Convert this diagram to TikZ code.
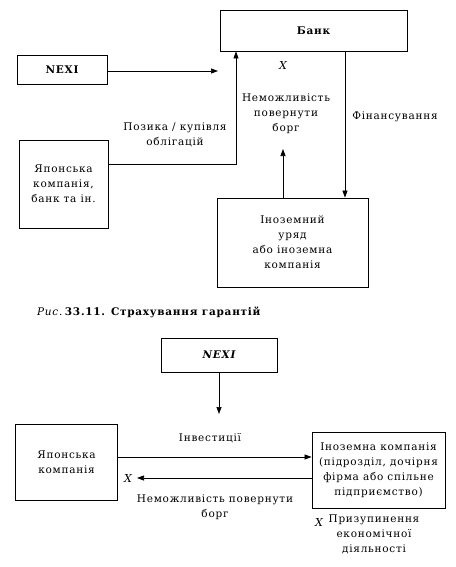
\documentclass[tikz,border=0pt]{standalone}
\usepackage{fontspec}
\setmainfont{DejaVu Serif}[LetterSpace=7]
\usetikzlibrary{arrows.meta}
\begin{document}
\begin{tikzpicture}[x=1pt,y=-1pt,
  every node/.style={font=\fontsize{10.5}{15}\selectfont},
  box/.style={draw,line width=0.8pt,inner sep=0pt,align=center},
  lbl/.style={align=center,inner sep=0pt},
  conn/.style={line width=0.7pt},
  arr/.style={conn,-{Triangle[length=7pt,width=5pt]}}]
\useasboundingbox (0,0) rectangle (455,567);
% top diagram
\node[box,minimum width=187pt,minimum height=41pt,font=\fontsize{10.5}{15}\selectfont\bfseries] (bank) at (313.5,30.5) {Банк};
\node[box,minimum width=90pt,minimum height=29pt,font=\fontsize{10.5}{15}\selectfont\bfseries] (nexiA) at (62,69.5) {NEXI};
\node[box,minimum width=89pt,minimum height=88pt] (japA) at (63.5,184) {Японська\\компанія,\\банк та ін.};
\node[box,minimum width=151pt,minimum height=89pt] (forA) at (292.5,242.5) {Іноземний\\уряд\\або іноземна\\компанія};
\coordinate (nexiEnd) at (218,71);
\draw[arr] (nexiA.east |- nexiEnd) -- (nexiEnd);
\draw[arr] ([yshift=20pt]japA.east) -| ([xshift=-77.5pt]bank.south);
\draw[arr] ([xshift=31.5pt]bank.south) -- ([xshift=31.5pt]bank.south |- forA.north);
\coordinate (upEnd) at (283,149);
\draw[arr] (upEnd |- forA.north) -- (upEnd);
\node[lbl,font=\fontsize{11}{15}\selectfont\itshape] (xA) at (283,65) {X};
\node[lbl] (nemA) at (286,114) {Неможливість\\повернути\\борг};
\node[lbl] (fin) at (395,117) {Фінансування};
\node[lbl] (poz) at (175,135) {Позика / купівля\\облігацій};
\node[lbl,anchor=west] (capA) at (37,312) {\textit{Рис.}\,\textbf{33.11. Страхування гарантій}};
% bottom diagram
\node[box,minimum width=116pt,minimum height=34pt,font=\fontsize{10.5}{15}\selectfont\bfseries\itshape] (nexiB) at (219,355) {NEXI};
\node[box,minimum width=102pt,minimum height=76pt] (japB) at (66.5,462) {Японська\\компанія};
\node[box,minimum width=133pt,minimum height=76pt] (forB) at (378.5,470) {Іноземна компанія\\(підрозділ, дочірня\\фірма або спільне\\підприємство)};
\coordinate (nexiBEnd) at (219,414);
\draw[arr] (nexiB.south) -- (nexiBEnd);
\draw[arr] ([yshift=5pt]japB.east) -- ([yshift=5pt]japB.east -| forB.west);
\coordinate (retEnd) at (137,478);
\draw[arr] (forB.west |- retEnd) -- (retEnd);
\node[lbl] (inv) at (210,438) {Інвестиції};
\node[lbl,font=\fontsize{11}{15}\selectfont\itshape] (xB) at (128,478) {X};
\node[lbl] (nemB) at (215,507) {Неможливість повернути\\борг};
\node[lbl,font=\fontsize{11}{15}\selectfont\itshape] (xC) at (319,522) {X};
\node[lbl,anchor=north] (priz) at (374,515) {Призупинення\\економічної\\діяльності};
\end{tikzpicture}
\end{document}
